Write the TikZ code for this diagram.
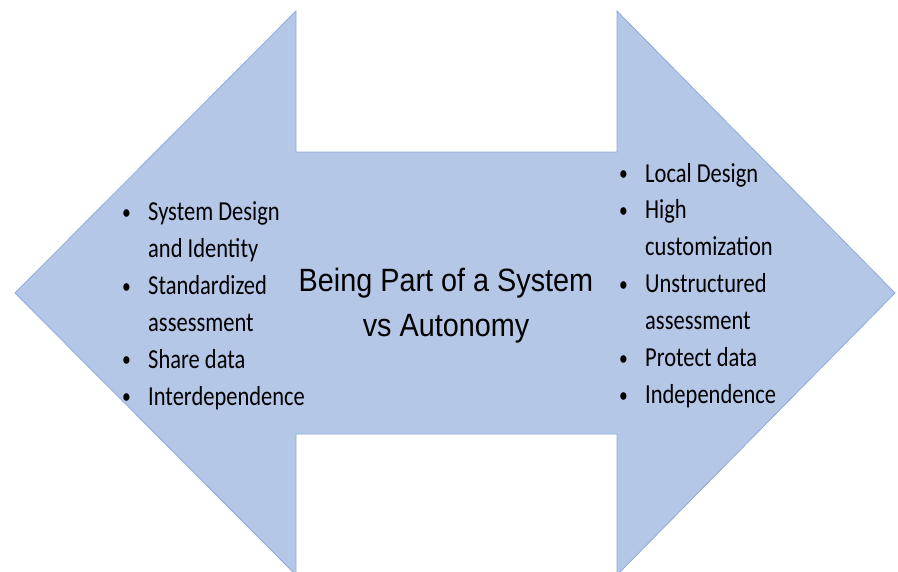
\documentclass[tikz,border=0pt]{standalone}
\usepackage{fontspec}
\setmainfont{Carlito}
\newfontfamily\titlefont{Liberation Sans}
\usepackage{tikz}
\usetikzlibrary{positioning}
\definecolor{arrowfill}{HTML}{B4C7E7}
\definecolor{arrowline}{HTML}{8EA9DB}
\newcommand{\itembullet}{\makebox[27pt][l]{\hspace*{1pt}\raisebox{1pt}{\scalebox{0.78}{\textbullet}}}}
\newcommand{\itemgap}{\hspace*{27pt}}
\tikzset{%
        bigarrow/.style = {fill = arrowfill, draw = arrowline, line width = 0.8pt},
        pointlist/.style = {anchor = base west, inner sep = 0pt,
                font = \fontsize{22.5}{30.25}\selectfont},
        headline/.style = {anchor = base, inner sep = 0pt,
                font = \titlefont\fontsize{28.8}{40.2}\selectfont}
}

\begin{document}
\begin{tikzpicture}[x=1pt, y=-1pt]
        \useasboundingbox (0,0) rectangle (898,571);
        % double arrow
        \coordinate (ltip) at (15,293);
        \coordinate (rtip) at (895,293);
        \draw[bigarrow] (ltip) -- (296,11) -- (296,152) -- (617,152)
                -- (617,11) -- (rtip) -- (617,575) -- (617,434)
                -- (296,434) -- (296,575) -- cycle;
        % texts
        \node[headline] (title) at (446,291)
        {\scalebox{1}[1.12]{\begin{tabular}[t]{@{}c@{}}Being Part of a System\\ vs Autonomy\end{tabular}}};
        \node[pointlist] (system) at (121,220.5)
        {\scalebox{1}[1.22]{\begin{tabular}[t]{@{}l@{}}
        \itembullet System Design\\
        \itemgap and Identity\\
        \itembullet Standardized\\
        \itemgap assessment\\
        \itembullet Share data\\
        \itembullet Interdependence
        \end{tabular}}};
        \node[pointlist] (autonomy) at (618,182)
        {\scalebox{1}[1.22]{\begin{tabular}[t]{@{}l@{}}
        \itembullet Local Design\\
        \itembullet High\\
        \itemgap customization\\
        \itembullet Unstructured\\
        \itemgap assessment\\
        \itembullet Protect data\\
        \itembullet Independence
        \end{tabular}}};
\end{tikzpicture}
\end{document}
